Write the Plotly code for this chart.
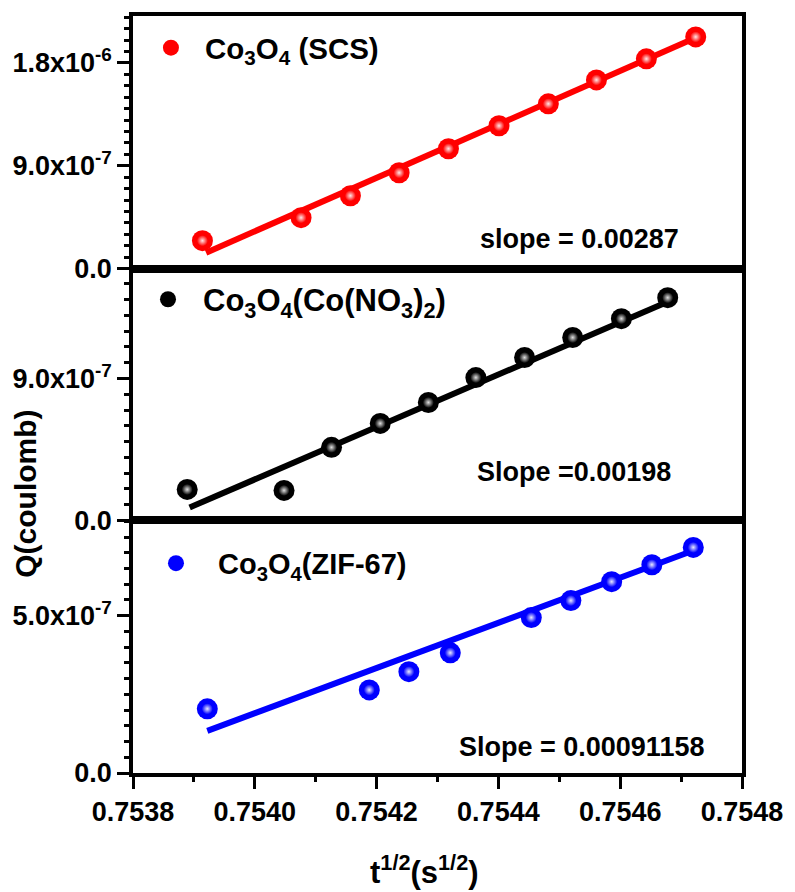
import plotly.graph_objects as go

# ---------------- data ----------------
scs_x = [0.753914, 0.754076, 0.754157, 0.754237, 0.754318, 0.754401, 0.754482, 0.754561, 0.754643, 0.754724]
scs_q = [2.45e-7, 4.46e-7, 6.38e-7, 8.39e-7, 1.049e-6, 1.250e-6, 1.442e-6, 1.651e-6, 1.835e-6, 2.027e-6]
scs_fit_x = [0.753920, 0.754720]
scs_fit_q = [1.40e-7, 2.01e-6]

nit_x = [0.753889, 0.754048, 0.754126, 0.754206, 0.754285, 0.754363, 0.754443, 0.754522, 0.754602, 0.754678]
nit_q = [1.96e-7, 1.90e-7, 4.63e-7, 6.15e-7, 7.48e-7, 9.06e-7, 1.033e-6, 1.160e-6, 1.280e-6, 1.413e-6]
nit_fit_x = [0.753893, 0.754682]
nit_fit_q = [0.82e-7, 1.394e-6]

zif_x = [0.753922, 0.754188, 0.754253, 0.754321, 0.754454, 0.754519, 0.754586, 0.754652, 0.754720]
zif_q = [2.04e-7, 2.64e-7, 3.22e-7, 3.82e-7, 4.94e-7, 5.48e-7, 6.08e-7, 6.62e-7, 7.17e-7]
zif_fit_x = [0.753922, 0.754716]
zif_fit_q = [1.34e-7, 7.04e-7]

x_ticks = [0.7538, 0.7540, 0.7542, 0.7544, 0.7546, 0.7548]
x_tick_text = ["0.7538", "0.7540", "0.7542", "0.7544", "0.7546", "0.7548"]

top_ticks = [0.0, 9.0e-7, 1.8e-6]
top_tick_text = ["0.0", "9.0x10<sup>-7</sup>", "1.8x10<sup>-6</sup>"]
mid_ticks = [0.0, 9.0e-7]
mid_tick_text = ["0.0", "9.0x10<sup>-7</sup>"]
bot_ticks = [0.0, 5.0e-7]
bot_tick_text = ["0.0", "5.0x10<sup>-7</sup>"]

labels = ["Co<sub>3</sub>O<sub>4</sub> (SCS)",
          "Co<sub>3</sub>O<sub>4</sub>(Co(NO<sub>3</sub>)<sub>2</sub>)",
          "Co<sub>3</sub>O<sub>4</sub>(ZIF-67)"]
slopes = ["slope = 0.00287", "Slope =0.00198", "Slope = 0.00091158"]
x_title = "t<sup>1/2</sup>(s<sup>1/2</sup>)"
y_title = "Q(coulomb)"

FONT = "Liberation Sans, Arial, sans-serif"

fig = go.Figure()

panels = [
    (scs_x, scs_q, scs_fit_x, scs_fit_q, "#ff0000", "#ffe6e6", "x3", "y3", "legend", labels[0]),
    (nit_x, nit_q, nit_fit_x, nit_fit_q, "#000000", "#e0e0e0", "x2", "y2", "legend2", labels[1]),
    (zif_x, zif_q, zif_fit_x, zif_fit_q, "#0000ff", "#e8e8ff", "x", "y", "legend3", labels[2]),
]

for xs, qs, fx, fq, col, hl, xa, ya, lg, name in panels:
    fig.add_trace(go.Scatter(x=fx, y=fq, mode="lines", line=dict(color=col, width=6),
                             xaxis=xa, yaxis=ya, showlegend=False, hoverinfo="skip"))
    fig.add_trace(go.Scatter(x=xs, y=qs, mode="markers", name=name,
                             marker=dict(size=21, color=col, line=dict(width=0)),
                             xaxis=xa, yaxis=ya, legend=lg, showlegend=True))
    fig.add_trace(go.Scatter(x=xs, y=qs, mode="markers",
                             marker=dict(size=11, color=col, line=dict(width=0),
                                         gradient=dict(type="radial", color=hl)),
                             xaxis=xa, yaxis=ya, showlegend=False, hoverinfo="skip"))

tickfont = dict(family=FONT, size=27, color="black", weight="bold")
common_y = dict(showline=True, mirror=True, linewidth=3.5, linecolor="black",
                ticks="outside", ticklen=12, tickwidth=3, tickcolor="black",
                showgrid=False, zeroline=False, tickfont=tickfont,
                minor=dict(ticks="outside", ticklen=5, tickwidth=3, tickcolor="black"))
common_x = dict(showline=True, mirror=True, linewidth=3.5, linecolor="black",
                range=[0.7538, 0.7548], showgrid=False, zeroline=False)

d1 = (773 - 520) / 758
d2 = (773 - 268) / 758

fig.update_layout(
    width=795, height=892,
    margin=dict(l=133, r=45, t=15, b=119),
    plot_bgcolor="white", paper_bgcolor="white",
    font=dict(family=FONT, color="black"),
    xaxis=dict(**common_x, anchor="y", domain=[0, 1],
               tickvals=x_ticks, ticktext=x_tick_text, ticks="outside",
               ticklen=12, tickwidth=3, tickcolor="black", tickfont=tickfont,
               minor=dict(ticks="outside", ticklen=5, tickwidth=3, tickcolor="black", dtick=0.0001)),
    xaxis2=dict(**common_x, anchor="y2", matches="x", showticklabels=False, ticks=""),
    xaxis3=dict(**common_x, anchor="y3", matches="x", showticklabels=False, ticks=""),
    yaxis=dict(**common_y, anchor="x", domain=[0, d1], range=[0, 8.03e-7],
               tickvals=bot_ticks, ticktext=bot_tick_text),
    yaxis2=dict(**common_y, anchor="x2", domain=[d1, d2], range=[0, 1.597e-6],
                tickvals=mid_ticks, ticktext=mid_tick_text),
    yaxis3=dict(**common_y, anchor="x3", domain=[d2, 1], range=[0, 2.21e-6],
                tickvals=top_ticks, ticktext=top_tick_text),
    legend=dict(x=(137 - 133) / 617, y=(773 - 47) / 758, xanchor="left", yanchor="middle",
                itemwidth=58, bgcolor="rgba(0,0,0,0)",
                font=dict(family=FONT, size=29.5, color="black", weight="bold")),
    legend2=dict(x=(133 - 133) / 617, y=(773 - 299) / 758, xanchor="left", yanchor="middle",
                 itemwidth=60, bgcolor="rgba(0,0,0,0)",
                 font=dict(family=FONT, size=31, color="black", weight="bold")),
    legend3=dict(x=(134 - 133) / 617, y=(773 - 563) / 758, xanchor="left", yanchor="middle",
                 itemwidth=74, bgcolor="rgba(0,0,0,0)",
                 font=dict(family=FONT, size=29, color="black", weight="bold")),
    showlegend=True,
)

# slope annotations
slope_pos = [((585.5 - 133) / 617, (773 - 238) / 758),
             ((580 - 133) / 617, (773 - 472) / 758),
             ((587 - 133) / 617, (773 - 747) / 758)]
for txt, (ax_, ay_) in zip(slopes, slope_pos):
    fig.add_annotation(text=txt, x=ax_, y=ay_, xref="paper", yref="paper",
                       showarrow=False, xanchor="center", yanchor="middle",
                       font=dict(family=FONT, size=27, color="black", weight="bold"))

# x axis title
fig.add_annotation(text=x_title, x=(428 - 133) / 617, y=(773 - 870) / 758,
                   xref="paper", yref="paper", showarrow=False,
                   xanchor="center", yanchor="middle",
                   font=dict(family=FONT, size=31, color="black", weight="bold"))

# y axis title (shared)
fig.add_annotation(text=y_title, x=(24 - 133) / 617, y=(773 - 493) / 758,
                   xref="paper", yref="paper", textangle=-90, showarrow=False,
                   xanchor="center", yanchor="middle",
                   font=dict(family=FONT, size=30, color="black", weight="bold"))

fig.write_html("out.html", config={"displayModeBar": False},
               post_script="document.body.style.margin='0';document.body.style.overflow='hidden';")
